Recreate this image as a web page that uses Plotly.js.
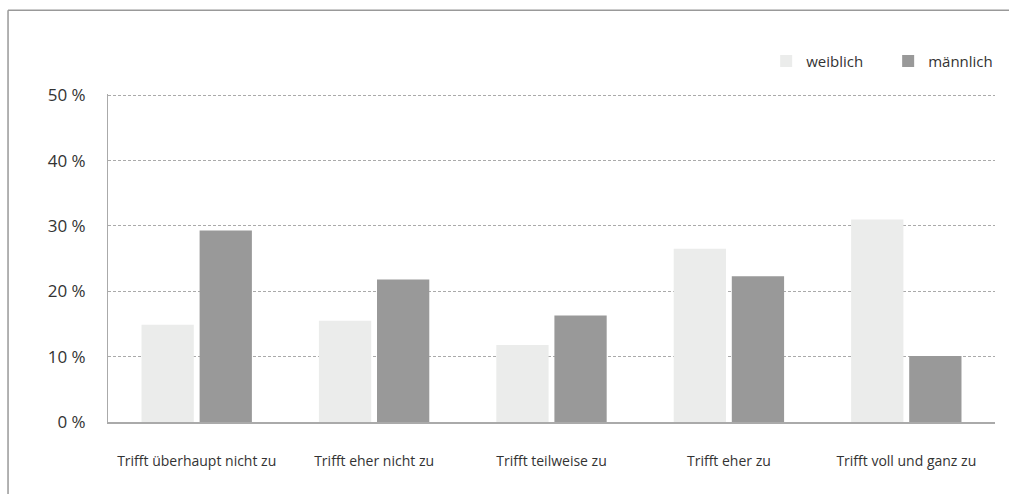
<!DOCTYPE html>
<html>
<head>
<meta charset="utf-8">
<script src="https://cdn.plot.ly/plotly-3.0.1.min.js"></script>
<style>html,body{margin:0;padding:0;background:#fff;}#chart{width:1009px;height:494px;}</style>
</head>
<body>
<div id="chart"></div>
<script>
var categories = ["Trifft überhaupt nicht zu", "Trifft eher nicht zu", "Trifft teilweise zu", "Trifft eher zu", "Trifft voll und ganz zu"];
var weiblich = [14.9, 15.5, 11.8, 26.5, 31.0];
var maennlich = [29.3, 21.8, 16.3, 22.3, 10.1];
var seriesNames = ["weiblich", "männlich"];
var yTicks = [0, 10, 20, 30, 40, 50];

var fontFam = "Open Sans, Noto Sans, sans-serif";
var traces = [
  {type: "bar", name: seriesNames[0], x: categories, y: weiblich, marker: {color: "#EBECEB"}, hoverinfo: "none"},
  {type: "bar", name: seriesNames[1], x: categories, y: maennlich, marker: {color: "#999999"}, hoverinfo: "none"}
];
var layout = {
  width: 1009, height: 494,
  margin: {l: 108, r: 14, t: 94, b: 72, pad: 0, autoexpand: false},
  paper_bgcolor: "#fff", plot_bgcolor: "#fff",
  barmode: "group", bargap: 0.345, bargroupgap: 0.1,
  font: {family: fontFam, color: "#333", size: 14},
  showlegend: true,
  legend: {orientation: "h", x: 0.742, xanchor: "left", y: 1.10, yanchor: "middle",
           font: {size: 15, color: "#333"}, traceorder: "normal", itemwidth: 30,
           entrywidth: 77, entrywidthmode: "pixels"},
  xaxis: {type: "category", showgrid: false, showline: true, linecolor: "#aaa", linewidth: 2,
          ticks: "", tickfont: {size: 14, color: "#333"}, ticklabelstandoff: 25, zeroline: false},
  yaxis: {range: [0, 50.2], tickvals: yTicks, ticktext: yTicks.map(function(v){return v + " %";}),
          showgrid: true, gridcolor: "#aaa", gridwidth: 1, griddash: "3px,2px",
          showline: true, linecolor: "#aaa", linewidth: 1, zeroline: false,
          ticks: "", tickfont: {size: 17, color: "#333"}, ticklabelstandoff: 18},
  shapes: [
    {type: "line", xref: "paper", yref: "paper", x0: -0.1127, x1: 1.02, y0: 1.255, y1: 1.255, line: {color: "#999", width: 1.5}},
    {type: "line", xref: "paper", yref: "paper", x0: -0.1127, x1: -0.1127, y0: 1.255, y1: -0.25, line: {color: "#999", width: 1.5}}
  ]
};
Plotly.newPlot("chart", traces, layout, {displayModeBar: false, staticPlot: true});
</script>
</body>
</html>
